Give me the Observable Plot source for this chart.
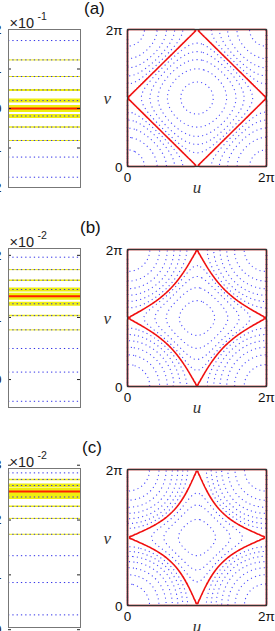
<!DOCTYPE html>
<html><head><meta charset="utf-8">
<script src="https://cdn.jsdelivr.net/npm/d3@7"></script>
<script src="https://cdn.jsdelivr.net/npm/@observablehq/plot@0.6"></script>
<style>
body{margin:0;background:#fff;width:275px;height:631px;overflow:hidden;position:relative;font-family:"Liberation Sans",Arial,sans-serif}
.p{position:absolute}
.lab{position:absolute;font-size:17px;line-height:20px;color:#111;font-family:"Liberation Sans",Arial,sans-serif}
</style></head><body>
<script>
// ---------- data ----------
const panelNames = ["(a)", "(b)", "(c)"];
const exponents = ["-1", "-2", "-2"];
// coupling parameter of the potential cos u + cos v + k cos u cos v
const couplings = [0, 0.54, 0.7];
// strip (energy level) diagrams
const stripDomainA = [-2, 2];
const stripDomainB = [-0.45, 2.11];
const stripDomainC = [0.04, 2.94];
const stripTicksA = [-2, -1, 0, 1, 2];
const stripTicksB = [0, 1, 2];
const stripTicksC = [0, 1, 2, 3];
const stripLevelsA = [1.72, 1.23, 0.81, 0.47, 0.20, -0.19, -0.47, -0.81, -1.23, -1.74];
const stripLevelsB = [1.97, 1.77, 1.60, 1.45, 1.22, 1.03, 0.80, 0.50, 0.12, -0.35];
const stripLevelsC = [2.86, 2.74, 2.63, 2.42, 2.25, 2.03, 1.74, 1.35, 0.86, 0.27];
const stripSeparatrix = [0, 1.34, 2.52];
// contour levels in the (u, v) plane
const contourLevelsA = [1.72, 1.23, 0.81, 0.47, 0.20, -0.19, -0.47, -0.81, -1.23, -1.74];
const contourLevelsB = [1.82, 1.18, 0.65, 0.22, -0.12, -0.38, -0.66, -0.85, -1.08, -1.32];
const contourLevelsC = [1.92, 1.25, 0.70, 0.25, -0.10, -0.36, -0.55, -0.86, -1.02, -1.20];
const separatrixLevels = [0, -0.54, -0.7];
const squareTicks = [0, 2 * Math.PI];
const squareTickLabels = ["0", "2π"];

// ---------- styles ----------
const bandA = [0, 1, 1, 2, 4, 4, 1.5, 1, 0, 0];
const bandB = [0, 1, 1.5, 4, 4, 1.5, 1, 0, 0, 0];
const bandC = [0, 1.5, 4, 4, 1.5, 1, 1, 0, 0, 0];

const strips = [
  {domain: stripDomainA, ticks: stripTicksA, levels: stripLevelsA, band: bandA},
  {domain: stripDomainB, ticks: stripTicksB, levels: stripLevelsB, band: bandB},
  {domain: stripDomainC, ticks: stripTicksC, levels: stripLevelsC, band: bandC}
];
const contourSets = [contourLevelsA, contourLevelsB, contourLevelsC];

const stripFrameTop = [29, 248, 468];
const stripFrameH = [158, 159, 159];
const sqFrameTop = [29, 249, 469];
const sqFrameH = [137, 137, 136];
const labelPos = [[84, -1], [80, 218], [82, 438]];

const baseStyle = {background: "transparent", fontFamily: "Liberation Sans, Arial, sans-serif", fontSize: "12px", color: "#111", overflow: "visible"};

function place(el, left, top) {
  el.classList.add("p");
  el.style.left = left + "px";
  el.style.top = top + "px";
  document.body.appendChild(el);
}

for (let i = 0; i < 3; i++) {
  const s = strips[i];
  const rows = s.levels.map((level, j) => ({level, band: s.band[j]}));
  const fw = 72;
  const stripPlot = Plot.plot({
    width: 90, height: 29 + stripFrameH[i] + 13,
    marginLeft: 8, marginRight: 10, marginTop: 29, marginBottom: 13,
    x: {domain: [0, 1], axis: null},
    y: {domain: s.domain, axis: null},
    style: baseStyle,
    marks: [
      Plot.ruleY(rows.filter(r => r.band > 0), {y: "level", stroke: "#eeee10", strokeWidth: "band"}),
      Plot.ruleY([stripSeparatrix[i]], {stroke: "#eeee10", strokeWidth: 7}),
      Plot.ruleY(rows, {y: "level", stroke: "#2f2fe8", strokeWidth: 1, strokeDasharray: "1.3,3"}),
      Plot.ruleY([stripSeparatrix[i]], {stroke: "#ff2000", strokeWidth: 2}),
      Plot.tickY(s.ticks, {y: d => d, stroke: "#222", insetRight: fw - 3}),
      Plot.tickY(s.ticks, {y: d => d, stroke: "#222", insetLeft: fw - 3}),
      Plot.text(s.ticks, {y: d => d, frameAnchor: "left", text: d => String(d), textAnchor: "end", dx: -7, fontSize: 13, fill: "#111"}),
      Plot.frame({stroke: "#777", strokeWidth: 1}),
      Plot.text(["×10"], {frameAnchor: "top-left", text: d => d, textAnchor: "start", lineAnchor: "bottom", dx: 1, dy: -2, fontSize: 14.5, fill: "#222"}),
      Plot.text([exponents[i]], {frameAnchor: "top-left", text: d => d, textAnchor: "start", lineAnchor: "bottom", dx: 29, dy: -10, fontSize: 10.5, fill: "#222"})
    ]
  });
  place(stripPlot, 0, stripFrameTop[i] - 29);

  const k = couplings[i];
  const f = (u, v) => Math.cos(u) + Math.cos(v) + k * Math.cos(u) * Math.cos(v);
  const P = 2 * Math.PI;
  const sq = Plot.plot({
    width: 175, height: 29 + sqFrameH[i] + 40,
    marginLeft: 27, marginRight: 9, marginTop: 29, marginBottom: 40,
    x: {domain: [0, P], axis: null},
    y: {domain: [0, P], axis: null},
    style: baseStyle,
    marks: [
      Plot.contour({value: f, x1: 0, y1: 0, x2: P, y2: P, thresholds: contourSets[i], fill: "none", stroke: "#4848ff", strokeWidth: 1.1, strokeDasharray: "1.1,3.3"}),
      Plot.contour({value: f, x1: 0, y1: 0, x2: P, y2: P, thresholds: [separatrixLevels[i]], fill: "none", stroke: "#f01010", strokeWidth: 1.6}),
      Plot.frame({stroke: "#333", strokeWidth: 1.3}),
      Plot.text(squareTicks, {x: d => d, frameAnchor: "bottom", text: (d, j) => squareTickLabels[j], dy: 15, fontSize: 13.5, fill: "#111"}),
      Plot.text(squareTicks, {y: d => d, frameAnchor: "left", text: (d, j) => squareTickLabels[j], textAnchor: "end", dx: -5, dy: 1, fontSize: 13.5, fill: "#111"}),
      Plot.text(["u"], {frameAnchor: "bottom", text: d => d, dy: 26, fontFamily: "Liberation Serif", fontStyle: "italic", fontSize: 17, fill: "#333"}),
      Plot.text(["v"], {frameAnchor: "left", text: d => d, dx: -24, dy: 1, fontFamily: "Liberation Serif", fontStyle: "italic", fontSize: 17, fill: "#333"})
    ]
  });
  place(sq, 100, sqFrameTop[i] - 29);

  const lab = document.createElement("div");
  lab.className = "lab";
  lab.textContent = panelNames[i];
  lab.style.left = labelPos[i][0] + "px";
  lab.style.top = labelPos[i][1] + "px";
  document.body.appendChild(lab);
}
</script>
</body></html>
